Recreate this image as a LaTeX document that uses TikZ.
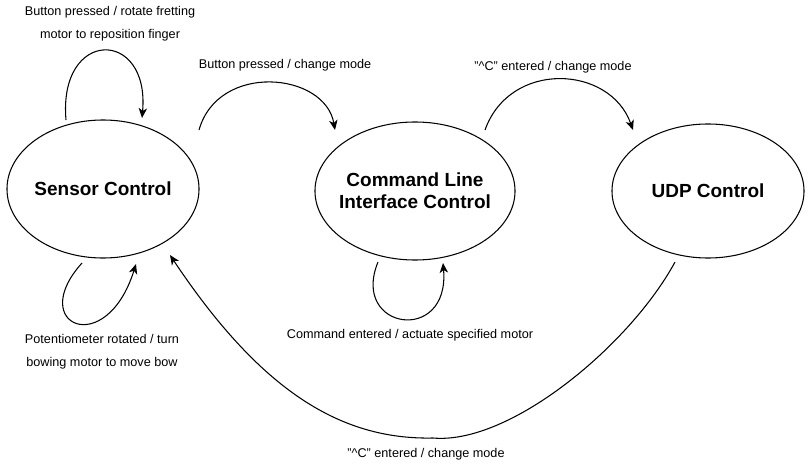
\documentclass[tikz,border=0pt]{standalone}
\usepackage{fontspec}
\setmainfont{Liberation Sans}
\usepackage{tikz}
\usetikzlibrary{arrows.meta}
\usetikzlibrary{shapes.geometric}

\tikzset{
  state/.style={ellipse,draw,line width=0.75pt,inner ysep=0pt,inner xsep=-1cm,outer sep=0pt,
    minimum width=4.8cm,minimum height=3.45cm,align=center,
    font=\fontsize{13.5}{15.6}\selectfont\bfseries},
  trans/.style={line width=0.75pt,-{Stealth[length=7pt,width=6pt,inset=2pt]}},
  lbl/.style={inner sep=0pt,align=center,font=\fontsize{9}{16.4}\selectfont}
}

\begin{document}
\begin{tikzpicture}[x=0.025cm,y=-0.025cm]
        \useasboundingbox (0,0) rectangle (809,466);

        \node[state] (SC) at (103,189) {Sensor Control};
        \node[state,minimum width=5cm] (CLI) at (415,191) {Command Line\\Interface Control};
        \node[state,minimum height=3.35cm] (UDP) at (708,191) {UDP Control};

        \node[lbl] (LSC1) at (110,24) {Button pressed / rotate fretting\\motor to reposition finger};
        \node[lbl] (LSC2) at (285,65) {Button pressed / change mode};
        \node[lbl] (LCLI1) at (553,67) {"\textasciicircum{}C" entered / change mode};
        \node[lbl] (LSC3) at (102,352) {Potentiometer rotated / turn\\bowing motor to move bow};
        \node[lbl] (LCLI2) at (410,335) {Command entered / actuate specified motor};
        \node[lbl] (LUDP) at (426,454) {"\textasciicircum{}C" entered / change mode};

        \coordinate (SWEEP) at (433,438);

        \draw[trans] ([shift={(-37,0)}]SC.north) .. controls +(-8,-92) and +(8,-90) .. ([shift={(39,-2)}]SC.north);
        \draw[trans] ([shift={(0,-59)}]SC.east) .. controls +(19,-68) and +(-10,-58) .. ([shift={(-80,8)}]CLI.north);
        \draw[trans] ([shift={(70,8)}]CLI.north) .. controls +(25,-70) and +(-23,-65) .. ([shift={(-75,6)}]UDP.north);
        \draw[trans] ([shift={(-21,5)}]SC.south) .. controls +(-56,62) and +(-30,96) .. ([shift={(33,6)}]SC.south);
        \draw[trans] ([shift={(-37,2)}]CLI.south) .. controls +(-28,68) and +(7,82) .. ([shift={(28,3)}]CLI.south);
        \draw[trans] ([shift={(-33,4)}]UDP.south) .. controls +(-45,83) and +(77,7) .. (SWEEP)
              .. controls +(-93,2) and +(90,135) .. ([shift={(67,-3)}]SC.south);
      \end{tikzpicture}
\end{document}
